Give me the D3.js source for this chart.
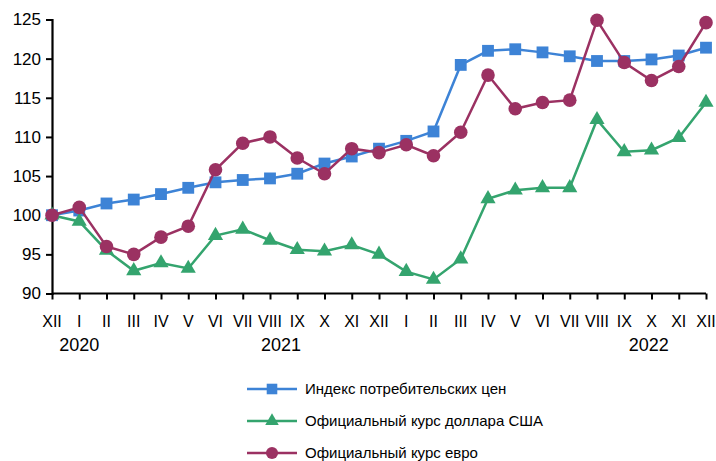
<!DOCTYPE html>
<html>
<head>
<meta charset="utf-8">
<script src="https://cdn.jsdelivr.net/npm/d3@7"></script>
<style>
  body { margin: 0; background: #fff; }
  text { font-family: Arial, "Liberation Sans", sans-serif; fill: #000; }
</style>
</head>
<body>
<div id="grafico"></div>
<script>
const months = ['XII','I','II','III','IV','V','VI','VII','VIII','IX','X','XI','XII',
                'I','II','III','IV','V','VI','VII','VIII','IX','X','XI','XII']
const years = [{label: '2020', at: 1}, {label: '2021', at: 8.4}, {label: '2022', at: 21.9}]
const yTicks = [90, 95, 100, 105, 110, 115, 120, 125]

const cpi = [100, 100.6, 101.5, 102.0, 102.7, 103.5, 104.2, 104.5, 104.7, 105.3, 106.6, 107.5, 108.5,
             109.5, 110.7, 119.2, 121.0, 121.2, 120.8, 120.3, 119.7, 119.7, 119.9, 120.4, 121.4]
const usd = [100, 99.2, 95.5, 92.9, 93.9, 93.2, 97.4, 98.2, 96.8, 95.6, 95.4, 96.2, 95.0,
             92.8, 91.8, 94.4, 102.1, 103.2, 103.5, 103.5, 112.2, 108.1, 108.3, 109.9, 114.4]
const eur = [100, 101.0, 96.0, 95.0, 97.2, 98.6, 105.8, 109.2, 110.0, 107.3, 105.3, 108.5, 108.0,
             109.0, 107.6, 110.6, 117.9, 113.6, 114.4, 114.7, 124.9, 119.5, 117.2, 119.0, 124.6]

const series = [
  {name: 'Индекс потребительских цен', values: cpi, color: '#3d83d6', symbol: d3.symbolSquare, size: 140},
  {name: 'Официальный курс доллара США', values: usd, color: '#34a46e', symbol: d3.symbolTriangle, size: 100},
  {name: 'Официальный курс евро', values: eur, color: '#9b3162', symbol: d3.symbolCircle, size: 145}
]

const width = 716
const height = 461

const svg = d3.select('#grafico')
              .append('svg')
              .attr('width', width)
              .attr('height', height)

const x = d3.scaleLinear().domain([0, months.length - 1]).range([52, 706])
const y = d3.scaleLinear().domain([90, 125]).range([293.5, 19.5])

// eixo y
const yAxis = svg.append('g')
                 .attr('transform', 'translate(52,0)')
                 .call(d3.axisLeft(y).tickValues(yTicks).tickSize(6).tickPadding(5))
yAxis.select('.domain').attr('stroke', '#000').attr('stroke-width', 2.2)
yAxis.selectAll('.tick line').attr('stroke-width', 2)
yAxis.selectAll('text').style('font-size', '17px').attr('font-family', 'Arial, "Liberation Sans", sans-serif')

// eixo x
const xAxis = svg.append('g')
                 .attr('transform', 'translate(0,293.5)')
                 .call(d3.axisBottom(x).tickValues(d3.range(months.length)).tickSize(6).tickFormat(''))
xAxis.select('.domain').attr('stroke', '#000').attr('stroke-width', 2.2).attr('d', 'M52,0H706')
xAxis.selectAll('.tick line').attr('stroke-width', 2)

svg.append('g')
   .selectAll('text')
   .data(months)
   .enter()
   .append('text')
   .attr('x', (d, i) => x(i))
   .attr('y', 327)
   .attr('text-anchor', 'middle')
   .style('font-family', '"Liberation Sans Narrow", "Arial Narrow", Arial, sans-serif')
   .style('font-size', '16px')
   .text(d => d)

svg.append('g')
   .selectAll('text')
   .data(years)
   .enter()
   .append('text')
   .attr('x', d => x(d.at))
   .attr('y', 351)
   .attr('text-anchor', 'middle')
   .style('font-size', '18px')
   .text(d => d.label)

const line = d3.line()
               .x((d, i) => x(i))
               .y(d => y(d))

series.forEach(s => {
  const g = svg.append('g')
  g.append('path')
   .datum(s.values)
   .attr('fill', 'none')
   .attr('stroke', s.color)
   .attr('stroke-width', 2.5)
   .attr('d', line)
  g.selectAll('path.marker')
   .data(s.values)
   .enter()
   .append('path')
   .attr('class', 'marker')
   .attr('transform', (d, i) => `translate(${x(i)},${y(d)})`)
   .attr('d', d3.symbol().type(s.symbol).size(s.size))
   .attr('fill', s.color)
})

// legenda
const legend = svg.append('g')
                  .selectAll('g')
                  .data(series)
                  .enter()
                  .append('g')
                  .attr('transform', (d, i) => `translate(247,${389 + i * 32})`)

legend.append('line')
      .attr('x1', 0)
      .attr('x2', 50)
      .attr('stroke', d => d.color)
      .attr('stroke-width', 2.5)

legend.append('path')
      .attr('transform', 'translate(25,0)')
      .attr('d', d => d3.symbol().type(d.symbol).size(d.size * 0.8)())
      .attr('fill', d => d.color)

legend.append('text')
      .attr('x', 58)
      .attr('y', 5)
      .style('font-size', '15px')
      .text(d => d.name)
</script>
</body>
</html>
